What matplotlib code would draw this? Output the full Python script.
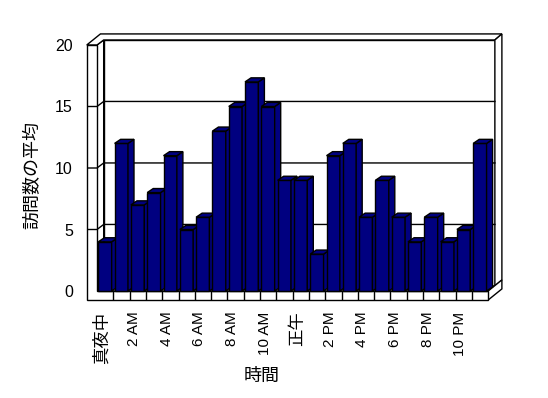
import matplotlib.pyplot as plt
from matplotlib.patches import Polygon

plt.rcParams['font.family'] = ['Liberation Sans', 'Noto Sans CJK JP', 'DejaVu Sans']

# average visits per hour of day
visits = [4, 12, 7, 8, 11, 5, 6, 13, 15, 17, 15, 9, 9, 3, 11, 12, 6, 9, 6, 4, 6, 4, 5, 12]
tick_labels = ['真夜中', '2 AM', '4 AM', '6 AM', '8 AM', '10 AM',
               '正午', '2 PM', '4 PM', '6 PM', '8 PM', '10 PM']
y_ticks = [0, 5, 10, 15, 20]

n = len(visits)
ymax = y_ticks[-1]

# fake 3d geometry (data units)
dx, dy = 0.41, 0.41      # front -> back wall
tx, ty = 0.43, 0.49      # wall thickness
bx, by = 0.37, 0.33      # bar depth
wall_w = 0.63
floor_h = 0.73
bar_l, bar_w = 0.08, 0.82
navy = '#000080'

# pixel scale of the reference
px_x, px_y = 16.3, 12.3
x0_px, y0_px = 97, 291
xlim = (-wall_w, n + dx + tx + 0.07)
ylim = (-floor_h, ymax + dy + ty + 0.05)

W, H = 548, 398
fig = plt.figure(figsize=(W / 100, H / 100), dpi=100)
left_px = x0_px + xlim[0] * px_x
bottom_px = y0_px - ylim[0] * px_y
ax = fig.add_axes([left_px / W, (H - bottom_px) / H,
                   (xlim[1] - xlim[0]) * px_x / W, (ylim[1] - ylim[0]) * px_y / H])
ax.set_xlim(*xlim)
ax.set_ylim(*ylim)
for s in ax.spines.values():
    s.set_visible(False)


def poly(pts, fc='white', z=1):
    ax.add_patch(Polygon(pts, closed=True, facecolor=fc, edgecolor='black',
                         lw=1, zorder=z, clip_on=False, joinstyle='miter'))


# walls and floor
poly([(dx, dy), (n + dx, dy), (n + dx, ymax + dy), (dx, ymax + dy)])
poly([(0, 0), (dx, dy), (dx, ymax + dy), (0, ymax)])
poly([(0, 0), (n, 0), (n + dx, dy), (dx, dy)])
poly([(-wall_w, ymax), (0, ymax), (dx, ymax + dy), (n + dx, ymax + dy),
      (n + dx + tx, ymax + dy + ty), (-wall_w + dx + tx, ymax + dy + ty)])
poly([(n + dx, dy), (n + dx, ymax + dy), (n + dx + tx, ymax + dy + ty), (n + dx + tx, dy + ty)])
poly([(n, -floor_h), (n, 0), (n + dx + tx, dy + ty), (n + dx + tx, -floor_h + dy + ty)])
poly([(-wall_w, -floor_h), (n, -floor_h), (n, 0), (0, 0), (0, ymax), (-wall_w, ymax)])

# gridlines
for v in y_ticks[1:-1]:
    ax.plot([-wall_w, 0, dx, n + dx], [v, v, v + dy, v + dy], color='black', lw=1, zorder=2)
for k in range(1, n):
    ax.plot([k, k], [-floor_h, 0], color='black', lw=1, zorder=2)

# bars
xs = [k + bar_l for k in range(n)]
bars = ax.bar(xs, visits, width=bar_w, align='edge', color=navy, edgecolor='black', lw=1)
for k, (rect, v) in enumerate(zip(bars, visits)):
    z = 3 + k * 0.01
    rect.set_zorder(z)
    r = xs[k] + bar_w
    poly([(r, 0), (r + bx, by), (r + bx, v + by), (r, v)], navy, z)
    poly([(xs[k], v), (r, v), (r + bx, v + by), (xs[k] + bx, v + by)], navy, z)

ax.set_yticks(y_ticks)
ax.set_xticks([k + 0.28 for k in range(0, n, 2)])
ax.set_xticklabels(tick_labels, rotation=90)
ax.tick_params(axis='y', length=0, pad=10, labelsize=11.5)
ax.tick_params(axis='x', length=0, pad=8.4, labelsize=11)
for t in ax.get_xticklabels():
    if not any(c.isascii() for c in t.get_text()):
        t.set_fontsize(12.5)

ax.set_ylabel('訪問数の平均', fontsize=13)
ax.set_xlabel('時間', fontsize=13)
ax.yaxis.set_label_coords(-0.11, 0.47)
ax.xaxis.set_label_coords(0.421, -0.255)

fig.savefig('out.png', dpi=100)
